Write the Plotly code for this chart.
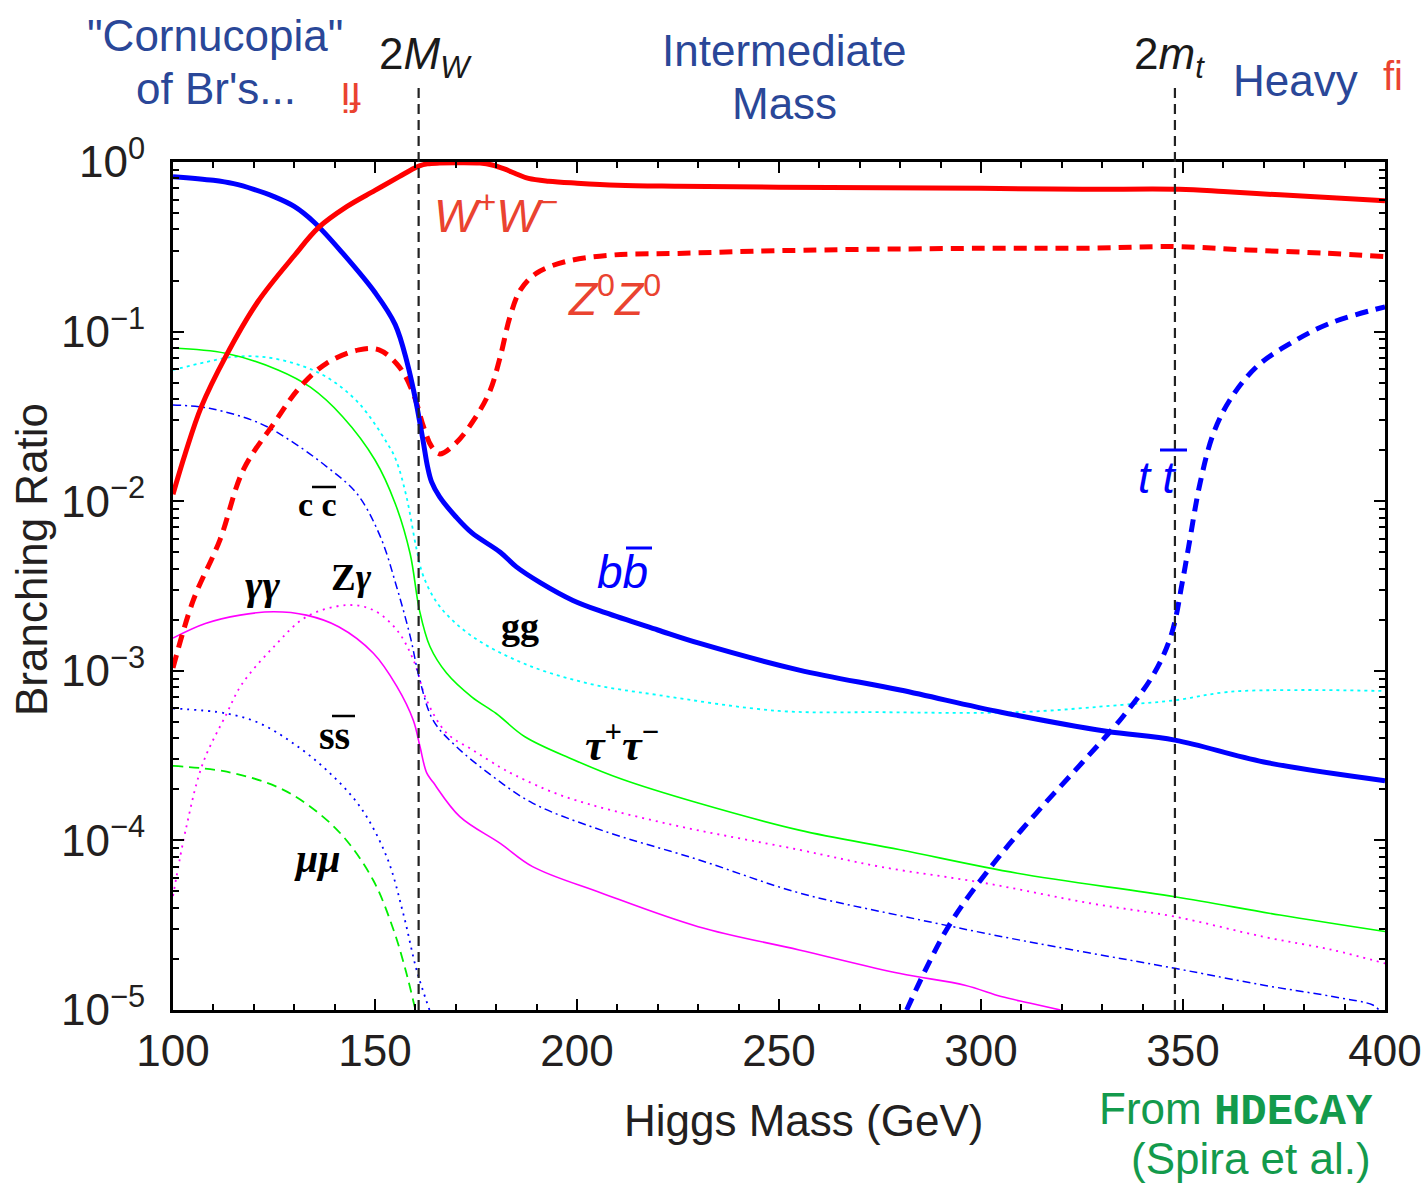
import plotly.graph_objects as go

# ---------------- data: Higgs branching ratios vs mass (GeV) ----------------
m_bb = [100, 110, 115, 120, 125, 130, 135, 142, 150, 155, 158, 160, 161, 162, 163, 164, 166, 170,
        174, 181, 185, 191, 199, 207, 220, 230, 255, 280, 305, 331, 348, 370, 400]
br_bb = [0.82, 0.78, 0.745, 0.69, 0.625, 0.547, 0.44, 0.29, 0.17, 0.11, 0.065, 0.040, 0.030,
         0.022, 0.016, 0.0130, 0.0106, 0.0081, 0.0065, 0.0050, 0.0041, 0.0033, 0.0026, 0.0022,
         0.00174, 0.00146, 0.00101, 0.00077, 0.00057, 0.00044, 0.00039, 0.00029, 0.000225]

m_ww = [100, 103, 107, 113, 121, 130, 136, 143, 150, 156, 159, 161, 163, 166, 170, 176, 179,
        182, 185, 188, 193, 200, 210, 225, 250, 300, 325, 349, 360, 374, 387, 400]
br_ww = [0.011, 0.019, 0.036, 0.071, 0.15, 0.28, 0.41, 0.545, 0.68, 0.82, 0.90, 0.95, 0.975,
         0.985, 0.99, 0.985, 0.96, 0.91, 0.85, 0.80, 0.77, 0.75, 0.73, 0.72, 0.71, 0.70, 0.69,
         0.69, 0.67, 0.64, 0.615, 0.59]

m_zz = [100, 105, 111.6, 117.4, 125, 131.4, 138, 146, 151, 156, 159.5, 162, 164, 166, 170, 175,
        178.5, 181, 183.4, 186, 190, 197, 209, 225, 250, 300, 325, 348, 366, 385, 400]
br_zz = [0.00104, 0.0026, 0.0059, 0.0153, 0.0288, 0.047, 0.065, 0.078, 0.078, 0.062, 0.043,
         0.0275, 0.021, 0.019, 0.022, 0.0315, 0.045, 0.071, 0.122, 0.176, 0.221, 0.258, 0.283,
         0.289, 0.30, 0.31, 0.31, 0.317, 0.303, 0.29, 0.277]

m_tt = [281.6, 291.9, 303.1, 313.7, 324.9, 335.2, 342.9, 347.2, 349.8, 351.4, 354.2, 357.5,
        361.6, 368.2, 376.5, 386.4, 400]
br_tt = [1.0e-5, 3.1e-5, 7.3e-5, 1.45e-4, 2.85e-4, 5.4e-4, 9.7e-4, 1.66e-3, 3.3e-3, 5.4e-3,
         1.27e-2, 2.5e-2, 3.95e-2, 6.2e-2, 8.5e-2, 0.112, 0.140]

m_tau = [100, 113, 126, 134, 142, 150, 155, 158.7, 161, 163.6, 167.7, 174, 180, 187, 199, 211,
         230, 255, 280, 309, 348, 374, 400]
br_tau = [0.080, 0.0745, 0.0594, 0.047, 0.0315, 0.0175, 0.0097, 0.0049, 0.00228, 0.00139,
          0.00097, 0.00070, 0.00056, 0.00041, 0.00030, 0.00023, 0.000166, 0.000115, 8.8e-5,
          6.4e-5, 4.65e-5, 3.63e-5, 2.9e-5]

m_gg = [100, 108, 115, 122, 130, 138, 146, 153, 155.2, 157.8, 160.3, 162, 166, 174, 187, 203,
        220, 250, 275, 309, 335, 348, 361, 378, 400]
br_gg = [0.0594, 0.066, 0.071, 0.071, 0.065, 0.054, 0.0378, 0.022, 0.0175, 0.0106, 0.0052,
         0.0036, 0.0024, 0.0016, 0.0011, 0.00084, 0.00072, 0.00058, 0.00057, 0.00057, 0.00063,
         0.00067, 0.00075, 0.00077, 0.00076]

m_cc = [100, 109, 121.5, 130, 138, 145.5, 151.3, 155.4, 158.7, 161.1, 164.4, 170, 179, 189,
        206, 230, 255, 280, 309, 348, 370, 387, 397, 398.5]
br_cc = [0.0369, 0.0353, 0.0288, 0.022, 0.0160, 0.0111, 0.0062, 0.0031, 0.0016, 0.00088,
         0.00051, 0.00036, 0.00024, 0.000166, 0.000115, 7.7e-5, 4.9e-5, 3.6e-5, 2.6e-5,
         1.76e-5, 1.4e-5, 1.2e-5, 1.07e-5, 1.0e-5]

m_zgam = [100, 103.3, 107.4, 113.3, 117, 125, 133, 143, 149.6, 155.4, 159.5, 162.8, 167.7,
          174.3, 181, 185, 197, 222, 255, 275, 301, 327, 348, 370, 387, 400]
br_zgam = [4.7e-5, 1.2e-4, 2.85e-4, 5.6e-4, 8.3e-4, 1.39e-3, 2.08e-3, 2.44e-3, 2.28e-3,
           1.74e-3, 1.16e-3, 6.7e-4, 4.3e-4, 3.4e-4, 2.7e-4, 2.4e-4, 1.81e-4, 1.26e-4,
           8.8e-5, 7.0e-5, 5.6e-5, 4.26e-5, 3.55e-5, 2.7e-5, 2.26e-5, 1.88e-5]

m_gamgam = [100, 108, 116.6, 125, 133, 141, 149.6, 155.4, 159.5, 161.1, 162.8, 164.4, 171, 181,
            189, 206, 230, 255, 280, 296, 305, 312, 319.7]
br_gamgam = [0.00156, 0.00190, 0.00213, 0.00223, 0.00213, 0.00182, 0.00127, 0.00081, 0.00051,
             0.00036, 0.00025, 0.00022, 0.000138, 9.6e-5, 7.0e-5, 4.9e-5, 3.1e-5, 2.26e-5,
             1.64e-5, 1.4e-5, 1.2e-5, 1.1e-5, 1.0e-5]

m_ss = [100, 113.3, 121.5, 129.8, 138, 146.3, 152.9, 157, 160.3, 163.5]
br_ss = [6.0e-4, 5.6e-4, 4.9e-4, 3.73e-4, 2.6e-4, 1.58e-4, 8.0e-5, 3.7e-5, 1.72e-5, 1.0e-5]

m_mumu = [100, 113.3, 125.7, 134, 142.2, 149.6, 154.6, 157.8, 160]
br_mumu = [2.75e-4, 2.54e-4, 2.07e-4, 1.58e-4, 1.05e-4, 5.8e-5, 2.96e-5, 1.64e-5, 1.0e-5]

# thresholds (GeV)
M_W = 80.4
m_top = 174.0

x_ticks = [100, 150, 200, 250, 300, 350, 400]
y_exponents = [-5, -4, -3, -2, -1, 0]

# ---------------- figure ----------------
SANS = "Liberation Sans, Arial, sans-serif"
SERIF = "Liberation Serif, Times New Roman, serif"
MONO = "Liberation Mono, Courier New, monospace"
NAVY = "#2a4798"
RED_TXT = "#ea4330"
GREEN_TXT = "#139a4c"

fig = go.Figure()

# thin channels first, thick ones on top
thin = [
    (m_mumu, br_mumu, "#00ee00", 1.8, "10px,6px"),
    (m_ss, br_ss, "#0000ff", 1.8, "2px,5px"),
    (m_gamgam, br_gamgam, "#ff00ff", 1.6, "solid"),
    (m_zgam, br_zgam, "#ff00ff", 1.8, "2px,5px"),
    (m_cc, br_cc, "#0000ff", 1.5, "8px,4px,2px,4px"),
    (m_gg, br_gg, "#00ffff", 1.8, "3px,4px"),
    (m_tau, br_tau, "#00ff00", 1.6, "solid"),
]
thick = [
    (m_tt, br_tt, "#0000ff", 5, "13px,8px"),
    (m_zz, br_zz, "#ff0000", 5, "13px,8px"),
    (m_bb, br_bb, "#0000ff", 5, "solid"),
    (m_ww, br_ww, "#ff0000", 5, "solid"),
]
for m, br, col, w, dash in thin + thick:
    fig.add_trace(go.Scatter(x=m, y=br, mode="lines",
                             line=dict(color=col, width=w, dash=dash, shape="spline", smoothing=1.0),
                             hoverinfo="skip"))

# threshold markers
for xv in (2 * M_W, 2 * m_top):
    fig.add_shape(type="line", xref="x", yref="paper", x0=xv, x1=xv, y0=0, y1=1.088,
                  line=dict(color="#222222", width=2.2, dash="10px,6px"), layer="above")

fig.update_layout(
    width=1426, height=1184,
    margin=dict(l=173, r=41, t=162, b=174),
    paper_bgcolor="white", plot_bgcolor="white",
    showlegend=False,
    font=dict(family=SANS, color="#231f20"),
)

fig.update_xaxes(
    range=[100, 400], tickvals=x_ticks, ticktext=[str(v) for v in x_ticks],
    ticks="inside", ticklen=11, tickwidth=2, tickcolor="black",
    showline=True, linecolor="black", linewidth=3, mirror="allticks",
    showgrid=False, zeroline=False, tickfont=dict(size=44, color="#231f20"),
    ticklabelstandoff=0, automargin=False,
    minor=dict(tickvals=[v for v in range(110, 400, 10) if v % 50], ticks="inside",
               ticklen=6, tickwidth=1.5, tickcolor="black", showgrid=False),
)
fig.update_yaxes(
    type="log", range=[-5, 0],
    tickvals=[10.0 ** e for e in y_exponents],
    ticktext=["10<sup>%s</sup>" % (str(e).replace("-", "\u2212")) for e in y_exponents],
    ticks="inside", ticklen=11, tickwidth=2, tickcolor="black",
    showline=True, linecolor="black", linewidth=3, mirror="allticks",
    showgrid=False, zeroline=False, tickfont=dict(size=44, color="#231f20"),
    ticklabelstandoff=16, automargin=False,
    minor=dict(tickvals=[k * 10.0 ** e for e in range(-5, 0) for k in range(2, 10)],
               ticks="inside", ticklen=6, tickwidth=1.5, tickcolor="black", showgrid=False),
)

# ---------------- text ----------------
PW, PH, X0, Y0 = 1212.0, 848.0, 173.0, 1010.0


def label(text, x, y, size, color, family=SANS, xanchor="left", angle=0):
    fig.add_annotation(text=text, x=(x - X0) / PW, y=(Y0 - y) / PH, xref="paper", yref="paper",
                       xanchor=xanchor, yanchor="middle", showarrow=False, textangle=angle,
                       font=dict(size=size, color=color, family=family))


def overline(x0, x1, y, color, width=3):
    fig.add_shape(type="line", xref="paper", yref="paper",
                  x0=(x0 - X0) / PW, x1=(x1 - X0) / PW, y0=(Y0 - y) / PH, y1=(Y0 - y) / PH,
                  line=dict(color=color, width=width))


# axis titles
label("Higgs Mass (GeV)", 803, 1120, 44, "#231f20", xanchor="center")
label("Branching Ratio", 31, 560, 44, "#231f20", xanchor="center", angle=-90)

# header text
label('"Cornucopia"', 215, 35, 44, NAVY, xanchor="center")
label("of Br's...", 216, 89, 44, NAVY, xanchor="center")
label("fi", 351, 97, 40, RED_TXT, xanchor="center", angle=180)
label("2<i>M</i><sub><i>W</i></sub>", 377, 57, 44, "#1a1a1a")
label("Intermediate", 784, 50, 44, NAVY, xanchor="center")
label("Mass", 784, 104, 44, NAVY, xanchor="center")
label("2<i>m</i><sub><i>t</i></sub>", 1132, 57, 44, "#1a1a1a")
label("Heavy", 1231, 80, 44, NAVY)
label("fi", 1381, 76, 40, RED_TXT)

# channel labels
label("<i>W</i><sup>+</sup><i>W</i><sup>\u2212</sup>", 432, 213, 46, RED_TXT)
label("<i>Z</i><sup>0</sup><i>Z</i><sup>0</sup>", 566, 296, 46, RED_TXT)
label("<i>bb</i>", 595, 572, 46, "#0000ff")
overline(626, 652, 548, "#0000ff")
label("<i>t t</i>", 1136, 477, 44, "#0000ff")
overline(1160, 1187, 450, "#0000ff")

label("<b>c c</b>", 296, 505, 34, "black", family=SERIF)
overline(312, 336, 487, "black", 2.5)
label("<b><i>\u03b3\u03b3</i></b>", 243, 585, 42, "black", family=SERIF)
label("<b>Z<i>\u03b3</i></b>", 329, 577, 37, "black", family=SERIF)
label("<b>gg</b>", 499, 626, 38, "black", family=SERIF)
label("<b><i>\u03c4</i><sup>+</sup><i>\u03c4</i><sup>\u2212</sup></b>", 583, 742, 44, "black",
      family=SERIF)
label("<b>ss</b>", 317, 735, 40, "black", family=SERIF)
overline(332, 355, 716, "black", 2.5)
label("<b><i>\u03bc\u03bc</i></b>", 292, 858, 40, "black", family=SERIF)

# source note
label('From <span style="font-family:%s"><b>HDECAY</b></span>' % MONO, 1097, 1110, 44, GREEN_TXT)
label("(Spira et al.)", 1129, 1158, 44, GREEN_TXT)

fig.write_html("out.html")
